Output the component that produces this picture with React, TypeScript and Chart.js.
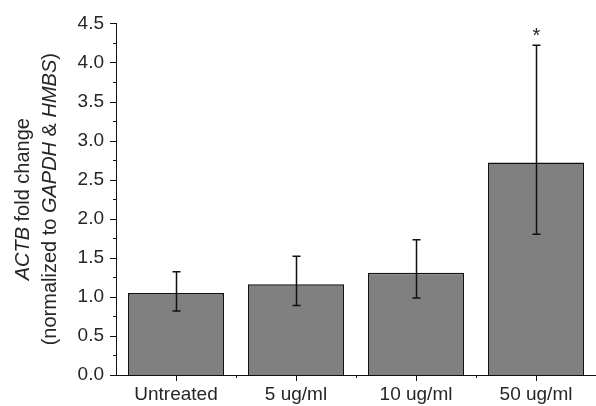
import React, { useEffect, useRef } from "react";
import { Chart, registerables } from "chart.js";

Chart.register(...registerables);

const categories = ["Untreated", "5 ug/ml", "10 ug/ml", "50 ug/ml"];
const foldChange = [1.05, 1.16, 1.31, 2.72];
const errLow = [0.82, 0.89, 0.985, 1.8];
const errHigh = [1.32, 1.52, 1.73, 4.22];
const significance = ["", "", "", "*"];
const yTickValues = [0, 0.5, 1, 1.5, 2, 2.5, 3, 3.5, 4, 4.5];
const titleLine1 = [
  { t: "ACTB", i: true },
  { t: " fold change", i: false },
];
const titleLine2 = [
  { t: "(normalized to ", i: false },
  { t: "GAPDH", i: true },
  { t: " & ", i: false },
  { t: "HMBS", i: true },
  { t: ")", i: false },
];

const FONT = '"Liberation Sans", Arial, sans-serif';
const TEXT = "#262626";

const decorPlugin = {
  id: "decor",
  afterDatasetsDraw(chart: any) {
    const ctx = chart.ctx;
    const y = chart.scales.y;
    const meta = chart.getDatasetMeta(0);
    ctx.save();
    ctx.strokeStyle = "#111";
    ctx.lineWidth = 1.5;
    meta.data.forEach((bar: any, i: number) => {
      const cx = Math.round(bar.x) + 0.5;
      const yl = y.getPixelForValue(errLow[i]);
      const yh = y.getPixelForValue(errHigh[i]);
      ctx.beginPath();
      ctx.moveTo(cx, yl);
      ctx.lineTo(cx, yh);
      ctx.moveTo(cx - 4, yl);
      ctx.lineTo(cx + 4, yl);
      ctx.moveTo(cx - 4, yh);
      ctx.lineTo(cx + 4, yh);
      ctx.stroke();
      if (significance[i]) {
        ctx.fillStyle = TEXT;
        ctx.font = `20px ${FONT}`;
        ctx.textAlign = "center";
        ctx.textBaseline = "alphabetic";
        ctx.fillText(significance[i], cx, yh - 3);
      }
    });
    ctx.restore();
  },
  afterDraw(chart: any) {
    const ctx = chart.ctx;
    const x = chart.scales.x;
    const y = chart.scales.y;
    const area = chart.chartArea;
    ctx.save();
    ctx.strokeStyle = "#111";
    ctx.lineWidth = 1;
    for (let v = 0; v <= 4.5001; v += 0.25) {
      const py = Math.round(y.getPixelForValue(v)) + 0.5;
      const major = Math.abs(v * 2 - Math.round(v * 2)) < 1e-6;
      const len = major ? 6 : 3;
      ctx.beginPath();
      ctx.moveTo(area.left, py);
      ctx.lineTo(area.left - len, py);
      ctx.stroke();
    }
    for (let i = 0; i < categories.length; i++) {
      const px = Math.round(x.getPixelForValue(i)) + 0.5;
      ctx.beginPath();
      ctx.moveTo(px, area.bottom);
      ctx.lineTo(px, area.bottom + 6);
      ctx.stroke();
      if (i < categories.length - 1) {
        const bx = Math.round((x.getPixelForValue(i) + x.getPixelForValue(i + 1)) / 2) + 0.5;
        ctx.beginPath();
        ctx.moveTo(bx, area.bottom);
        ctx.lineTo(bx, area.bottom + 3);
        ctx.stroke();
      }
    }
    const cy = (area.top + area.bottom) / 2;
    const drawLine = (segs: any[], bx: number, size: number) => {
      const fonts = segs.map((s) => `${s.i ? "italic " : ""}${size}px ${FONT}`);
      let total = 0;
      const widths = segs.map((s, k) => {
        ctx.font = fonts[k];
        const w = ctx.measureText(s.t).width;
        total += w;
        return w;
      });
      ctx.save();
      ctx.translate(bx, cy);
      ctx.rotate(-Math.PI / 2);
      ctx.fillStyle = TEXT;
      ctx.textAlign = "left";
      ctx.textBaseline = "alphabetic";
      let cur = -total / 2;
      segs.forEach((s, k) => {
        ctx.font = fonts[k];
        ctx.fillText(s.t, cur, 0);
        cur += widths[k];
      });
      ctx.restore();
    };
    drawLine(titleLine1, 29, 20);
    drawLine(titleLine2, 56, 20);
    ctx.restore();
  },
};

export default function App() {
  const ref = useRef<HTMLCanvasElement>(null);
  useEffect(() => {
    if (!ref.current) return;
    const chart = new Chart(ref.current, {
      type: "bar",
      data: {
        labels: categories,
        datasets: [
          {
            data: foldChange,
            backgroundColor: "#808080",
            borderColor: "#111",
            borderWidth: 1.5,
            barPercentage: 0.8,
            categoryPercentage: 1,
          },
        ],
      },
      options: {
        animation: false,
        responsive: false,
        maintainAspectRatio: false,
        layout: { padding: { top: 20, right: 0, left: 0, bottom: 0 } },
        plugins: { legend: { display: false }, tooltip: { enabled: false } },
        scales: {
          x: {
            grid: { display: false, drawTicks: false },
            border: { display: true, color: "#111", width: 1 },
            ticks: { color: TEXT, font: { family: FONT, size: 19 }, padding: 8 },
            afterFit: (s: any) => {
              s.height = 31;
            },
          },
          y: {
            min: 0,
            max: 4.5,
            grid: { display: false, drawTicks: false },
            border: { display: true, color: "#111", width: 1 },
            afterBuildTicks: (s: any) => {
              s.ticks = yTickValues.map((v) => ({ value: v }));
            },
            ticks: {
              color: TEXT,
              font: { family: FONT, size: 19 },
              padding: 12,
              callback: (v: any) => Number(v).toFixed(1),
            },
            afterFit: (s: any) => {
              s.width = 116;
            },
          },
        },
      },
      plugins: [decorPlugin],
    });
    return () => chart.destroy();
  }, []);
  return (
    <div style={{ position: "fixed", left: 0, top: 0, width: 596, height: 406, background: "#fff" }}>
      <canvas ref={ref} width={596} height={406} style={{ width: 596, height: 406 }} />
    </div>
  );
}
